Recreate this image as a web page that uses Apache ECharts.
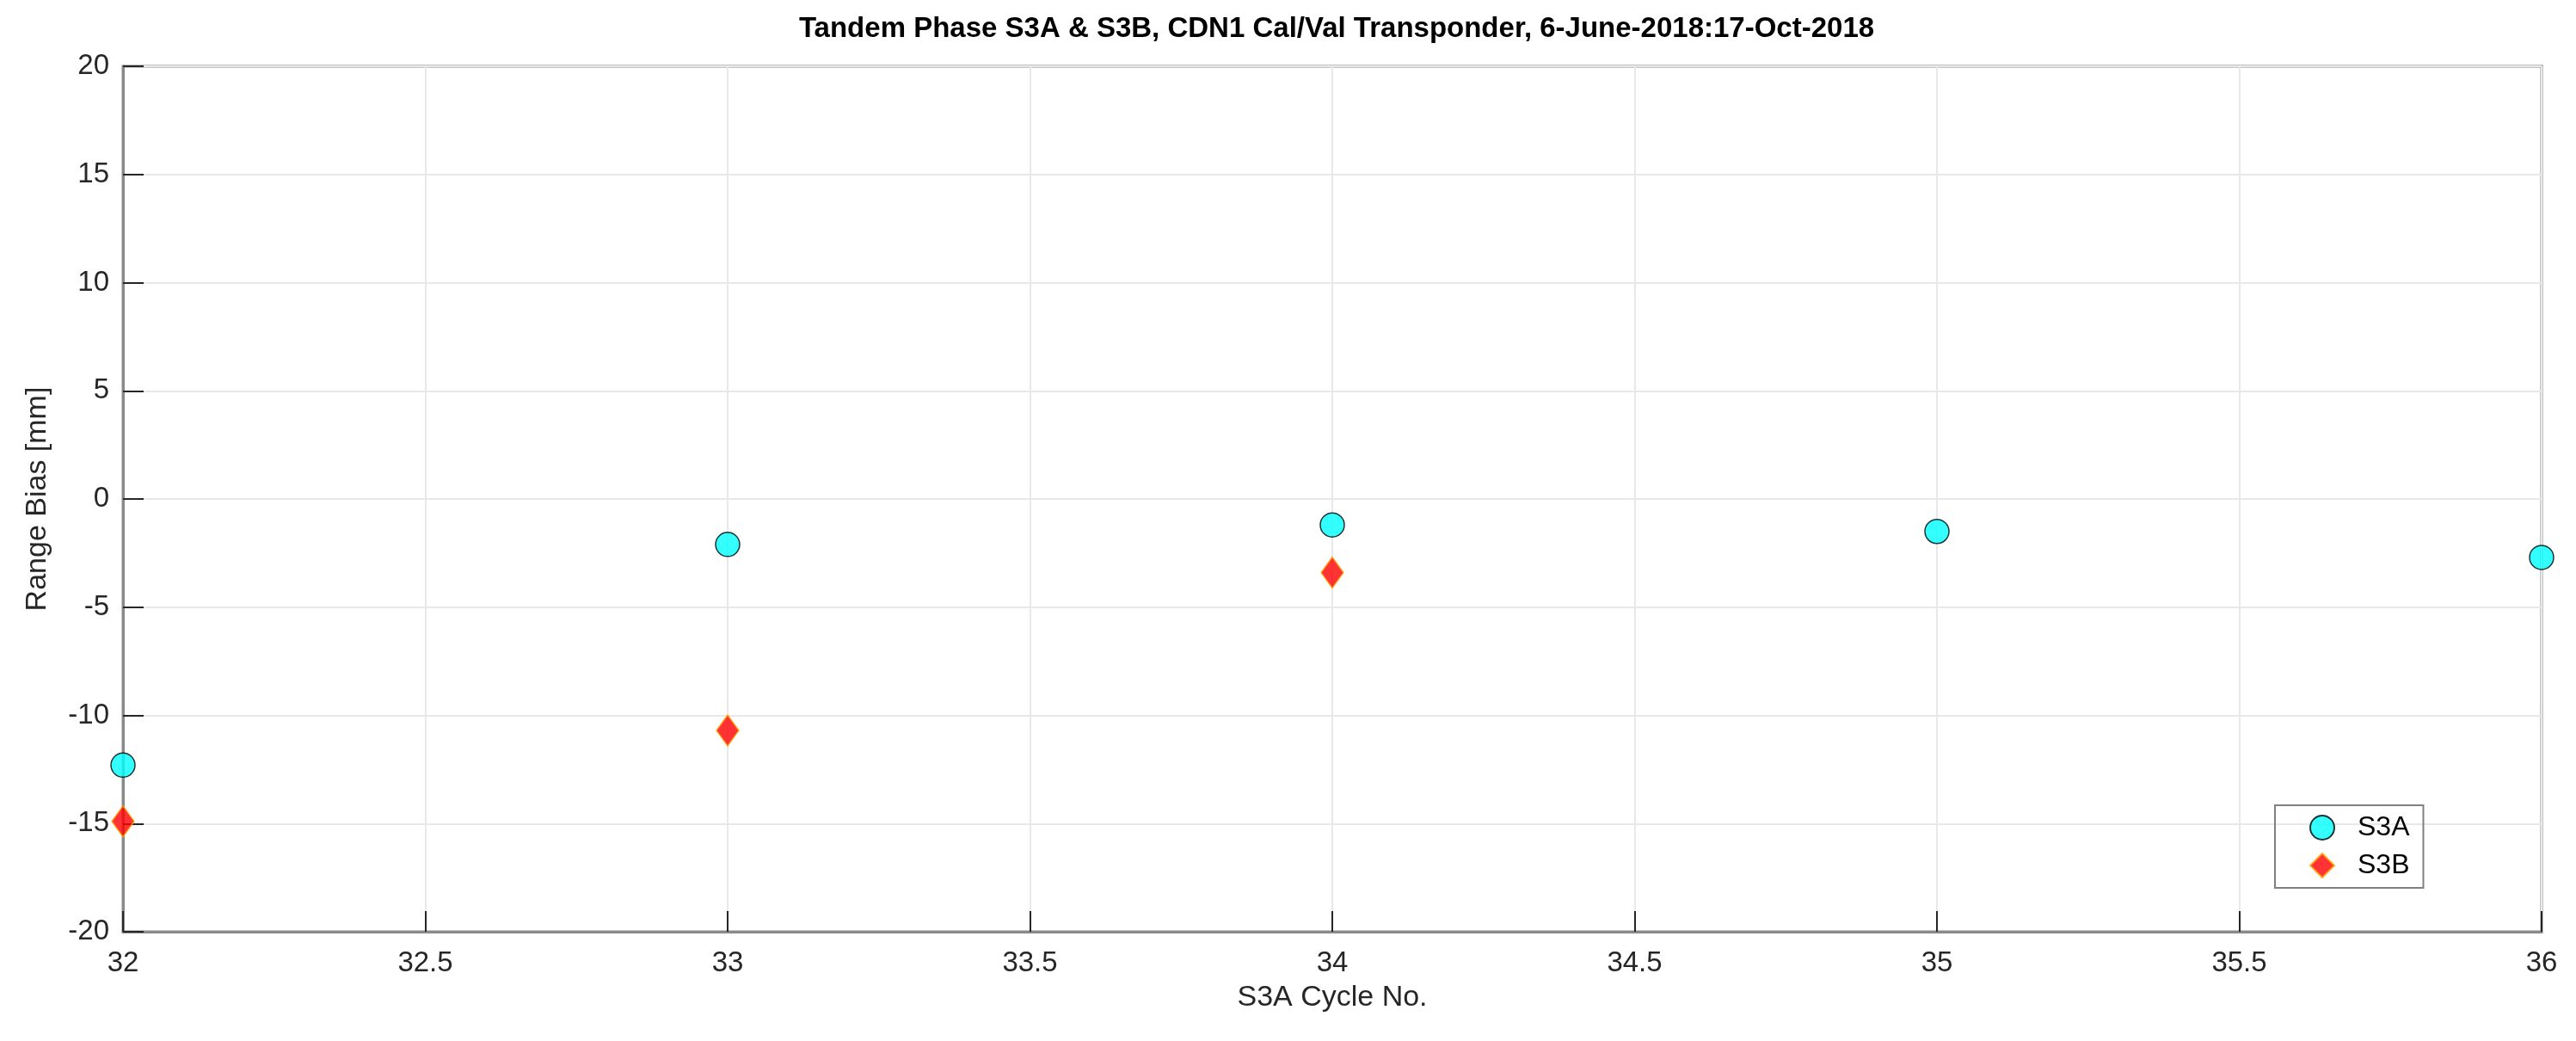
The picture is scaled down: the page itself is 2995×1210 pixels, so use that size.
<!DOCTYPE html>
<html><head><meta charset="utf-8">
<script src="https://cdn.jsdelivr.net/npm/echarts@6/dist/echarts.min.js"></script>
<style>html,body{margin:0;background:#fff}#c{width:2995px;height:1210px}</style>
</head><body><div id="c"></div>
<script>
const cycles = [32, 33, 34, 35, 36];
const s3a = [-12.3, -2.1, -1.2, -1.5, -2.7];
const s3bCycles = [32, 33, 34];
const s3b = [-14.9, -10.7, -3.4];
const titleText = 'Tandem Phase S3A & S3B, CDN1 Cal/Val Transponder, 6-June-2018:17-Oct-2018';

const chart = echarts.init(document.getElementById('c'));
const axisCommon = {
  axisLine: {show: true, onZero: false, lineStyle: {color: '#8a8a8a', width: 3}},
  axisTick: {show: true, inside: true, length: 24, lineStyle: {color: '#262626', width: 2}},
  axisLabel: {color: '#262626', fontSize: 33, fontFamily: 'Liberation Sans, Arial'},
  splitLine: {show: true, lineStyle: {color: '#e8e8e8', width: 2}},
  nameTextStyle: {color: '#262626', fontSize: 34, fontFamily: 'Liberation Sans, Arial'}
};
chart.setOption({
  backgroundColor: '#fff',
  animation: false,
  title: {text: titleText, left: 1549, top: 12, textAlign: 'center',
    textStyle: {fontSize: 33, fontWeight: 'bold', color: '#000', fontFamily: 'Liberation Sans, Arial'}},
  grid: {left: 143, right: 40, top: 77, bottom: 127, show: true, borderColor: '#8a8a8a', borderWidth: 3},
  legend: {
    orient: 'vertical', left: 2645, top: 936, width: 182,
    borderColor: '#808080', borderWidth: 2, padding: [10, 16, 10, 40],
    itemGap: 12, itemWidth: 28, itemHeight: 28,
    textStyle: {fontSize: 32, color: '#000', fontFamily: 'Liberation Sans, Arial', padding: [0, 0, 0, 22]},
    data: [{name: 'S3A', icon: 'circle'}, {name: 'S3B', icon: 'diamond'}]
  },
  xAxis: Object.assign({type: 'value', min: 32, max: 36, interval: 0.5,
    name: 'S3A Cycle No.', nameLocation: 'middle', nameGap: 60}, axisCommon,
    {axisLabel: Object.assign({}, axisCommon.axisLabel, {margin: 20})}),
  yAxis: Object.assign({type: 'value', min: -20, max: 20, interval: 5,
    name: 'Range Bias [mm]', nameLocation: 'middle', nameGap: 82}, axisCommon,
    {axisLabel: Object.assign({}, axisCommon.axisLabel, {margin: 16})}),
  series: [
    {name: 'S3A', type: 'scatter', symbol: 'circle', symbolSize: 28,
     itemStyle: {color: '#00ffff', borderColor: '#000', borderWidth: 1.5},
     data: cycles.map((c, i) => [c, s3a[i]]), clip: false},
    {name: 'S3B', type: 'scatter', symbol: 'diamond', symbolSize: [26, 36],
     itemStyle: {color: '#ff0000', borderColor: '#ffa500', borderWidth: 1.5},
     data: s3bCycles.map((c, i) => [c, s3b[i]]), clip: false}
  ]
});
</script></body></html>
